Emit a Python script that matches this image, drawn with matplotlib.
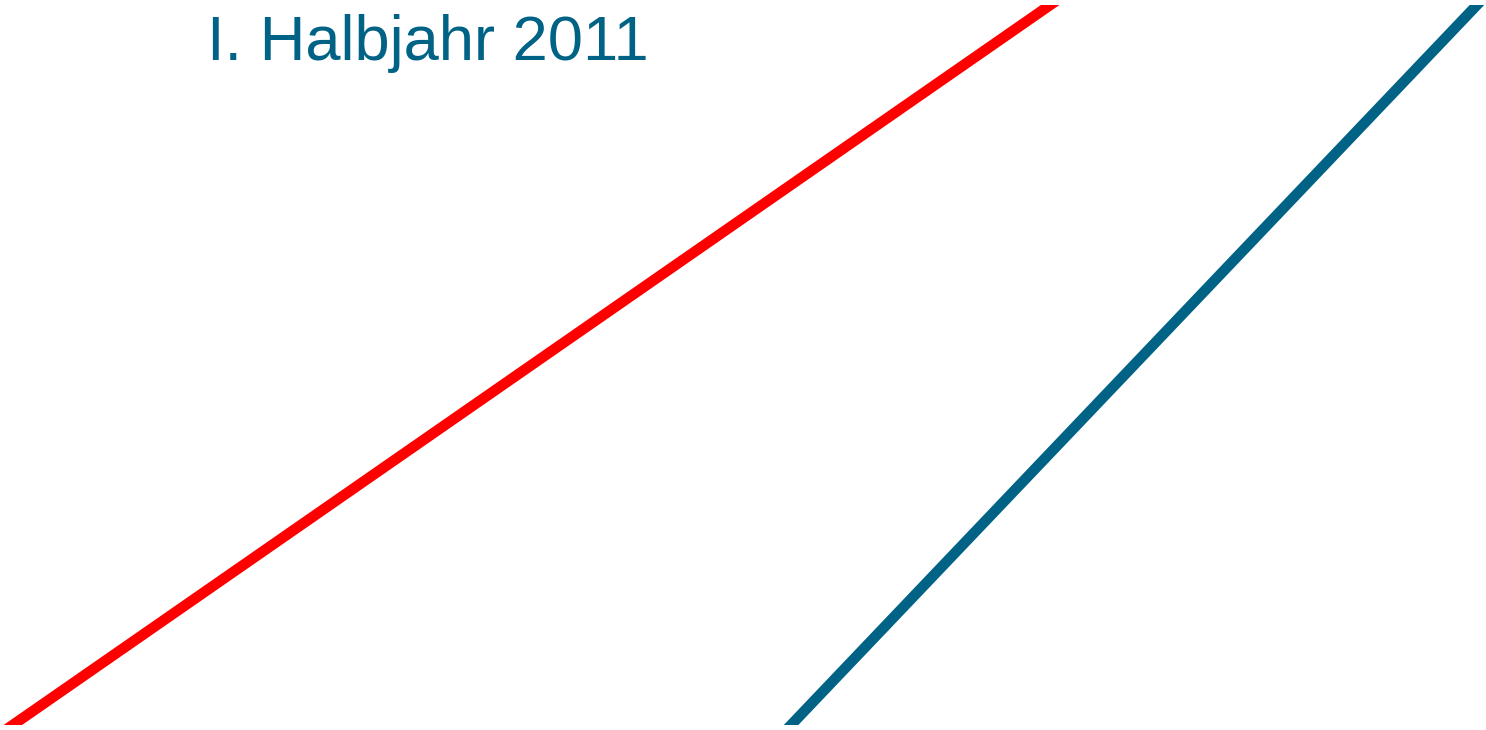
import matplotlib
matplotlib.use("Agg")
import matplotlib.pyplot as plt

# line endpoints (x in px from left, y in px above the bottom clip edge);
# they run a little past the clip box so the ends are cut flat
red_x = [-16, 1079]
red_y = [-20, 740]
blue_x = [772, 1496]
blue_y = [-20, 740]

title = "I. Halbjahr 2011"
teal = "#006385"

fig = plt.figure(figsize=(14.86, 7.30), dpi=100)
ax = fig.add_axes([0, 5 / 730, 1, 720 / 730])
ax.set_xlim(0, 1486)
ax.set_ylim(0, 720)
ax.axis("off")

ax.plot(red_x, red_y, color="#ff0000", lw=7.6, solid_capstyle="butt")
ax.plot(blue_x, blue_y, color=teal, lw=7.6, solid_capstyle="butt")

fig.text(207 / 1486, 1 - 60 / 730, title, color=teal, fontsize=45.5,
         family="Liberation Sans", ha="left", va="baseline")

fig.savefig("out.png", dpi=100)
